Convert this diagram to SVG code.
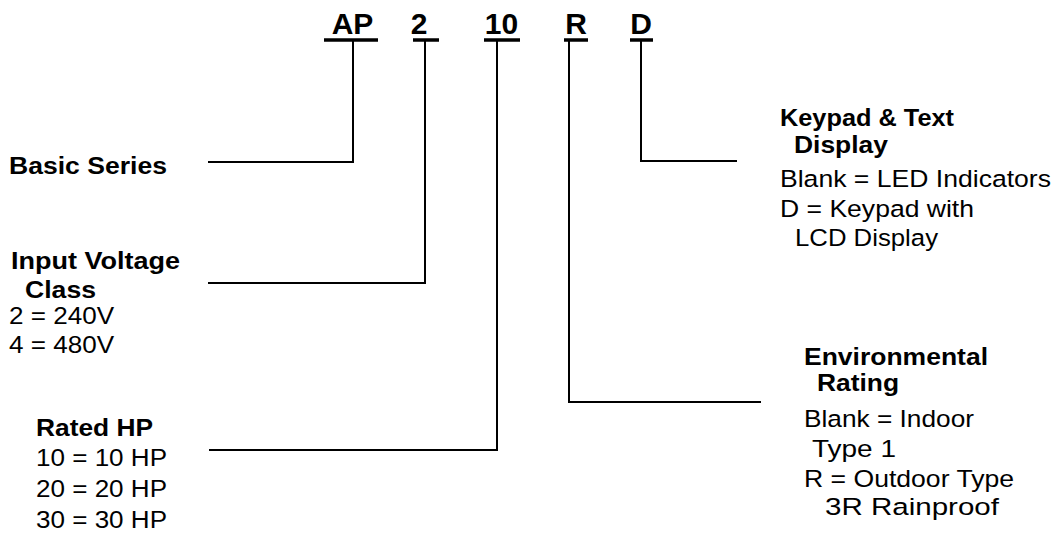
<svg xmlns="http://www.w3.org/2000/svg" width="1053" height="535" viewBox="0 0 1053 535">
<style>
text{font-family:"Liberation Sans",Arial,sans-serif;fill:#000}
.code{font-size:30px;font-weight:bold;text-anchor:middle}
.h{font-size:23.5px;font-weight:bold}
.v{font-size:24.5px}
.ul{stroke:#000;stroke-width:3.5;fill:none}
.conn{stroke:#000;stroke-width:2;fill:none}
</style>
<rect width="1053" height="535" fill="#fff"/>
<g id="code-AP"><text class="code" x="352.5" y="34">AP</text><line class="ul" x1="324" y1="40" x2="378" y2="40"/></g>
<g id="code-2"><text class="code" x="419" y="34">2</text><line class="ul" x1="413" y1="40" x2="439" y2="40"/></g>
<g id="code-10"><text class="code" x="501.5" y="34">10</text><line class="ul" x1="484" y1="40" x2="520" y2="40"/></g>
<g id="code-R"><text class="code" x="576" y="34">R</text><line class="ul" x1="564" y1="40" x2="588" y2="40"/></g>
<g id="code-D"><text class="code" x="641" y="34">D</text><line class="ul" x1="630" y1="40" x2="653" y2="40"/></g>
<g id="connectors">
<polyline class="conn" points="353,41 353,162 208,162"/>
<polyline class="conn" points="425,41 425,283 208,283"/>
<polyline class="conn" points="497,41 497,450 209,450"/>
<polyline class="conn" points="569,41 569,402 761,402"/>
<polyline class="conn" points="641,41 641,161 737,161"/>
</g>
<g id="basic-series"><text class="h" x="9" y="174" textLength="158" lengthAdjust="spacingAndGlyphs">Basic Series</text></g>
<g id="input-voltage">
<text class="h" x="11" y="269" textLength="169" lengthAdjust="spacingAndGlyphs">Input Voltage</text>
<text class="h" x="25" y="298" textLength="71" lengthAdjust="spacingAndGlyphs">Class</text>
<text class="v" x="9" y="324" textLength="105" lengthAdjust="spacingAndGlyphs">2 = 240V</text>
<text class="v" x="9" y="353" textLength="105" lengthAdjust="spacingAndGlyphs">4 = 480V</text>
</g>
<g id="rated-hp">
<text class="h" x="36" y="436" textLength="117" lengthAdjust="spacingAndGlyphs">Rated HP</text>
<text class="v" x="36" y="466" textLength="131" lengthAdjust="spacingAndGlyphs">10 = 10 HP</text>
<text class="v" x="36" y="497" textLength="131" lengthAdjust="spacingAndGlyphs">20 = 20 HP</text>
<text class="v" x="36" y="528" textLength="131" lengthAdjust="spacingAndGlyphs">30 = 30 HP</text>
</g>
<g id="keypad-display">
<text class="h" x="780" y="126" textLength="174" lengthAdjust="spacingAndGlyphs">Keypad &amp; Text</text>
<text class="h" x="794" y="153" textLength="94" lengthAdjust="spacingAndGlyphs">Display</text>
<text class="v" x="780" y="187" textLength="271" lengthAdjust="spacingAndGlyphs">Blank = LED Indicators</text>
<text class="v" x="780" y="217" textLength="194" lengthAdjust="spacingAndGlyphs">D = Keypad with</text>
<text class="v" x="795" y="246" textLength="143" lengthAdjust="spacingAndGlyphs">LCD Display</text>
</g>
<g id="environmental-rating">
<text class="h" x="804" y="365" textLength="184" lengthAdjust="spacingAndGlyphs">Environmental</text>
<text class="h" x="817" y="391" textLength="82" lengthAdjust="spacingAndGlyphs">Rating</text>
<text class="v" x="804" y="427" textLength="170" lengthAdjust="spacingAndGlyphs">Blank = Indoor</text>
<text class="v" x="812" y="457" textLength="84" lengthAdjust="spacingAndGlyphs">Type 1</text>
<text class="v" x="804" y="487" textLength="210" lengthAdjust="spacingAndGlyphs">R = Outdoor Type</text>
<text class="v" x="825" y="515" textLength="174" lengthAdjust="spacingAndGlyphs">3R Rainproof</text>
</g>
</svg>
